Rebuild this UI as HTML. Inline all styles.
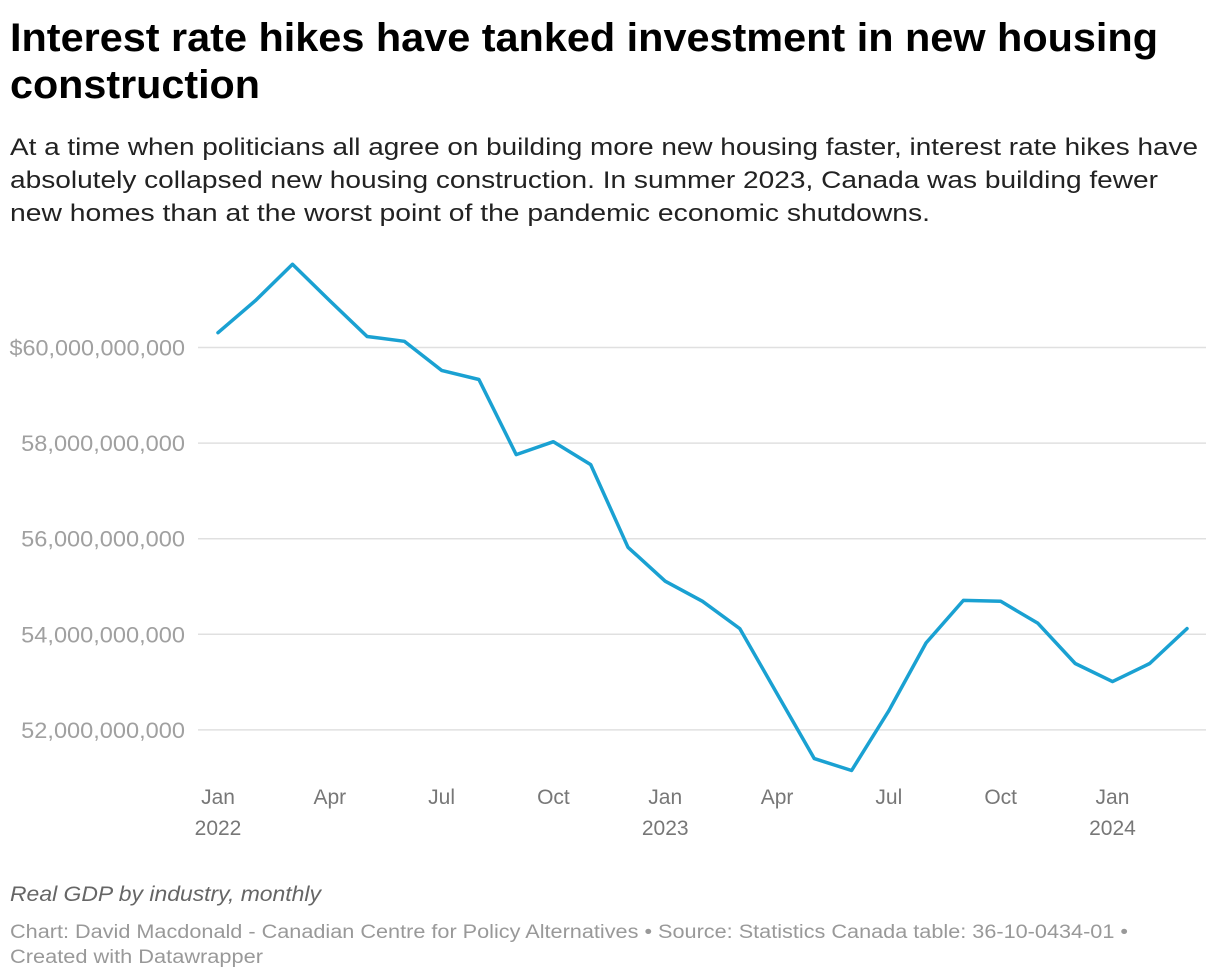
<!DOCTYPE html>
<html><head><meta charset="utf-8"><style>
body{margin:0;background:#fff;}
svg{display:block;font-family:"Liberation Sans",sans-serif;}
</style></head><body>
<svg id="chart" width="1220" height="980" viewBox="0 0 1220 980">
<text x="10" y="51" font-size="40" font-weight="bold" fill="#000" textLength="1148" lengthAdjust="spacingAndGlyphs">Interest rate hikes have tanked investment in new housing</text>
<text x="10" y="98" font-size="40" font-weight="bold" fill="#000" textLength="250" lengthAdjust="spacingAndGlyphs">construction</text>
<text x="10" y="155" font-size="24" fill="#222" textLength="1188" lengthAdjust="spacingAndGlyphs">At a time when politicians all agree on building more new housing faster, interest rate hikes have</text>
<text x="10" y="188" font-size="24" fill="#222" textLength="1148" lengthAdjust="spacingAndGlyphs">absolutely collapsed new housing construction. In summer 2023, Canada was building fewer</text>
<text x="10" y="221" font-size="24" fill="#222" textLength="920" lengthAdjust="spacingAndGlyphs">new homes than at the worst point of the pandemic economic shutdowns.</text>
<g id="grid"></g>
<g id="xaxis"></g>
<path id="line" fill="none" stroke="#1aa1d2" stroke-width="3.5" stroke-linejoin="round" stroke-linecap="round"/>
<text x="10" y="901" font-size="21" font-style="italic" fill="#666" textLength="311" lengthAdjust="spacingAndGlyphs">Real GDP by industry, monthly</text>
<text x="10" y="938" font-size="19" fill="#999" textLength="1118" lengthAdjust="spacingAndGlyphs">Chart: David Macdonald - Canadian Centre for Policy Alternatives • Source: Statistics Canada table: 36-10-0434-01 •</text>
<text x="10" y="963" font-size="19" fill="#999" textLength="253" lengthAdjust="spacingAndGlyphs">Created with Datawrapper</text>
</svg>
<script>
const months = ["2022-01","2022-02","2022-03","2022-04","2022-05","2022-06","2022-07","2022-08","2022-09","2022-10","2022-11","2022-12","2023-01","2023-02","2023-03","2023-04","2023-05","2023-06","2023-07","2023-08","2023-09","2023-10","2023-11","2023-12","2024-01","2024-02","2024-03"];
const valuesB = [60.31,60.98,61.74,60.98,60.23,60.13,59.52,59.33,57.76,58.03,57.55,55.82,55.11,54.69,54.12,52.76,51.40,51.15,52.40,53.82,54.71,54.69,54.23,53.39,53.01,53.39,54.12];
const yTicks = [52,54,56,58,60];
const yTickLabels = ["52,000,000,000","54,000,000,000","56,000,000,000","58,000,000,000","$60,000,000,000"];
const xTickIdx = [0,3,6,9,12,15,18,21,24];
const xTickLabels = ["Jan","Apr","Jul","Oct","Jan","Apr","Jul","Oct","Jan"];
const xYearLabels = ["2022","","","","2023","","","","2024"];

const NS="http://www.w3.org/2000/svg";
function xScale(i){return 218+i*(1187-218)/26;}
function yScale(v){return 347.5-(v-60)*47.8;}
const grid=document.getElementById('grid');
yTicks.forEach((t,k)=>{
  const y=yScale(t);
  const l=document.createElementNS(NS,'line');
  
  
  l.setAttribute('x1',198);l.setAttribute('x2',1206);l.setAttribute('y1',y);l.setAttribute('y2',y);
  l.setAttribute('stroke','#e0e0e0');l.setAttribute('stroke-width','1.5');
  grid.appendChild(l);
  const tx=document.createElementNS(NS,'text');
  
  
  tx.setAttribute('x',185);tx.setAttribute('y',y+8);tx.setAttribute('text-anchor','end');
  tx.setAttribute('font-size','22');tx.setAttribute('fill','#a0a0a0');
  tx.setAttribute('textLength',yTickLabels[k].length*11.7);
  tx.setAttribute('lengthAdjust','spacingAndGlyphs');
  tx.textContent=yTickLabels[k];
  grid.appendChild(tx);
});
const xa=document.getElementById('xaxis');
xTickIdx.forEach((idx,k)=>{
  const x=xScale(idx);
  const t=document.createElementNS(NS,'text');
  
  
  t.setAttribute('x',x);t.setAttribute('y',804);t.setAttribute('text-anchor','middle');
  t.setAttribute('font-size','21');t.setAttribute('fill','#777');
  t.textContent=xTickLabels[k];xa.appendChild(t);
  if(xYearLabels[k]){
    const t2=document.createElementNS(NS,'text');
    
    
    t2.setAttribute('x',x);t2.setAttribute('y',835);t2.setAttribute('text-anchor','middle');
    t2.setAttribute('font-size','21');t2.setAttribute('fill','#777');
    t2.textContent=xYearLabels[k];xa.appendChild(t2);
  }
});
document.getElementById('line').setAttribute('d',valuesB.map((v,i)=>(i?'L':'M')+xScale(i).toFixed(1)+','+yScale(v).toFixed(1)).join(' '));
</script>
</body></html>
